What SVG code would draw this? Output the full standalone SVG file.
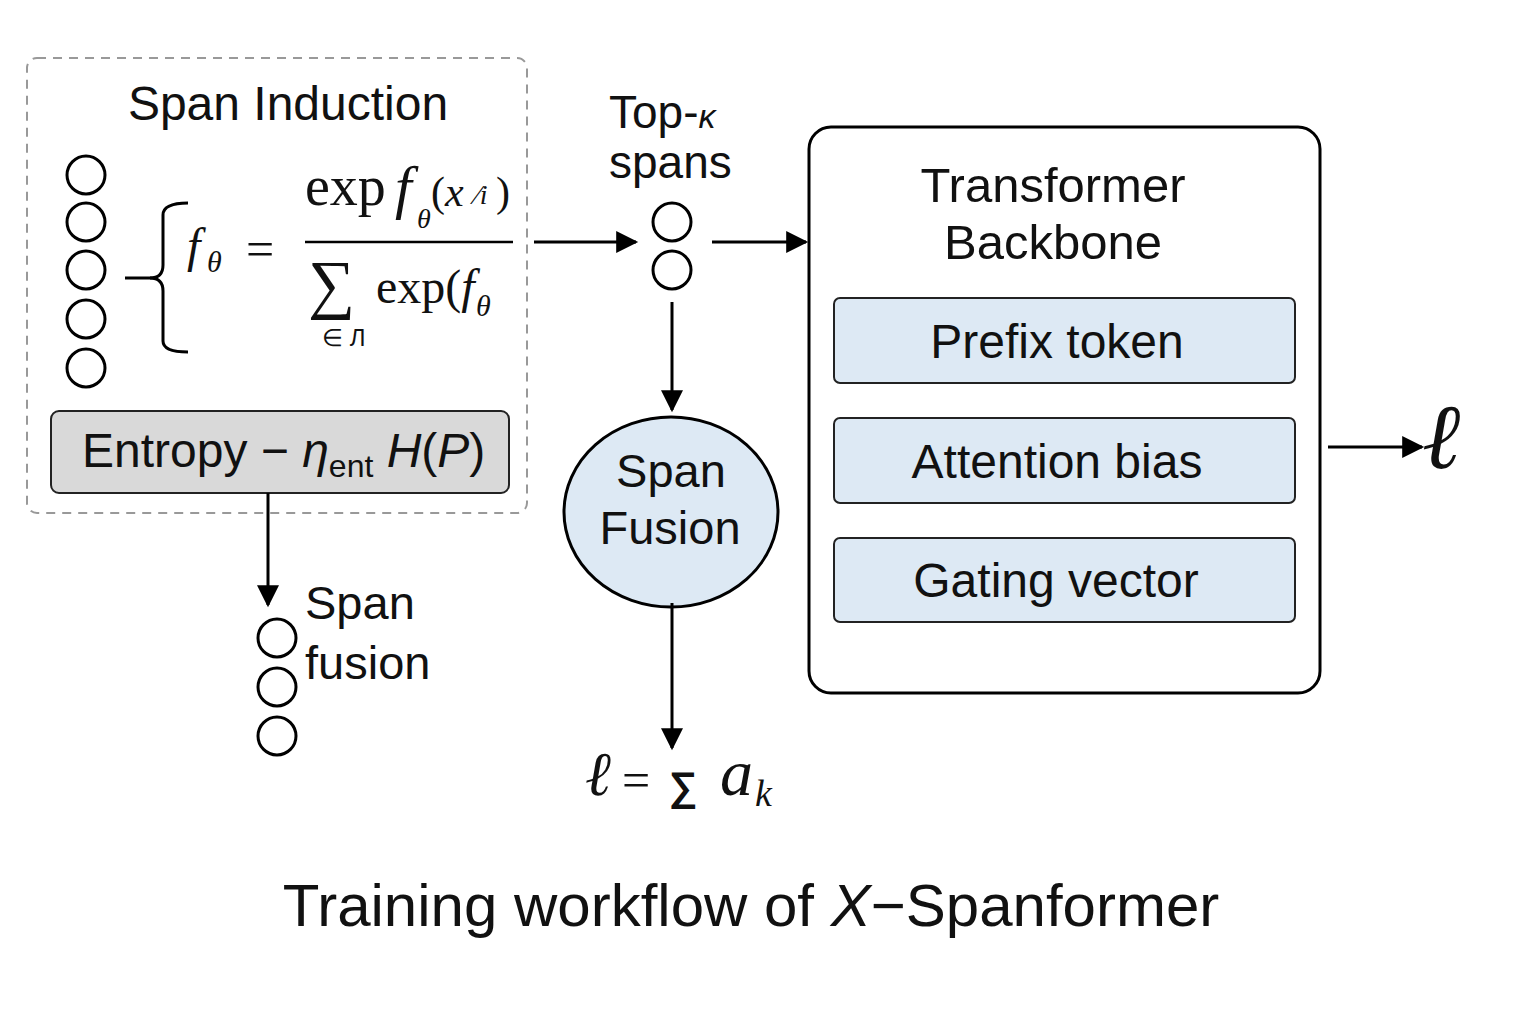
<svg xmlns="http://www.w3.org/2000/svg" width="1536" height="1024" viewBox="0 0 1536 1024">
<defs>
<marker id="ahb" viewBox="0 0 10 10" refX="9" refY="5" markerWidth="24" markerHeight="22" markerUnits="userSpaceOnUse" orient="auto"><path d="M0,0 L10,5 L0,10 Z" fill="#000"/></marker>
<style>
.sans{font-family:"Liberation Sans",Arial,sans-serif;fill:#111}
.serif{font-family:"Liberation Serif","DejaVu Serif",serif;fill:#111}
.ci{fill:#fff;stroke:#000;stroke-width:3}
.ln{stroke:#000;stroke-width:3;fill:none}
.blue{fill:#dde9f4;stroke:#222;stroke-width:2}
</style>
</defs>
<rect width="1536" height="1024" fill="#fff"/>

<g id="span-induction">
<rect x="27" y="58" width="500" height="455" rx="10" fill="none" stroke="#999" stroke-width="2" stroke-dasharray="9 7"/>
<text class="sans" x="288" y="120" font-size="48" text-anchor="middle">Span Induction</text>
<circle class="ci" cx="86" cy="175" r="19"/>
<circle class="ci" cx="86" cy="222" r="19"/>
<circle class="ci" cx="86" cy="270" r="19"/>
<circle class="ci" cx="86" cy="319" r="19"/>
<circle class="ci" cx="86" cy="368" r="19"/>
<path class="ln" d="M125,278 H150 Q163,278 163,265 V215 Q163,203 188,203"/>
<path class="ln" d="M150,278 Q163,278 163,291 V341 Q163,352 188,352"/>
<text class="serif" x="187" y="262" font-size="48" font-style="italic">f</text>
<text class="serif" x="207" y="272" font-size="30" font-style="italic">θ</text>
<text class="serif" x="246" y="266" font-size="50">=</text>
<text class="serif" x="305" y="205" font-size="56">exp</text>
<text class="serif" x="395" y="207" font-size="60" font-style="italic">f</text>
<text class="serif" x="417" y="228" font-size="28" font-style="italic">θ</text>
<text class="serif" x="431" y="206" font-size="42">(<tspan font-style="italic">x</tspan></text>
<text class="serif" x="475" y="204" font-size="28" font-style="italic">⁄i</text>
<text class="serif" x="496" y="206" font-size="42">)</text>
<line x1="305" y1="242" x2="513" y2="242" stroke="#000" stroke-width="2.5"/>
<text class="serif" x="308" y="306" font-size="66">∑</text>
<text class="serif" x="376" y="303" font-size="48">exp(<tspan font-style="italic">f</tspan></text>
<text class="serif" x="476" y="316" font-size="30" font-style="italic">θ</text>
<text class="sans" x="322" y="346" font-size="24">∈ Л</text>
</g>

<g id="entropy">
<rect x="51" y="411" width="458" height="82" rx="8" fill="#d9d9d9" stroke="#222" stroke-width="2"/>
<text class="sans" x="82" y="467" font-size="48">Entropy − <tspan font-style="italic">ƞ</tspan><tspan font-size="32" dy="10">ent</tspan><tspan dy="-10" font-style="italic"> H</tspan>(<tspan font-style="italic">P</tspan>)</text>
</g>

<g id="top-k-spans">
<text class="sans" x="609" y="128" font-size="46">Top-<tspan font-style="italic" font-size="34">κ</tspan></text>
<text class="sans" x="609" y="178" font-size="46">spans</text>
<circle class="ci" cx="672" cy="222" r="19"/>
<circle class="ci" cx="672" cy="270" r="19"/>
</g>

<g id="span-fusion">
<ellipse cx="671" cy="512" rx="107" ry="95" fill="#dde9f4" stroke="#000" stroke-width="3"/>
<text class="sans" x="671" y="487" font-size="47" text-anchor="middle">Span</text>
<text class="sans" x="670" y="544" font-size="47" text-anchor="middle">Fusion</text>
</g>

<g id="loss-sum">
<text class="serif" x="585" y="795" font-size="62" font-style="italic">ℓ</text>
<text class="serif" x="622" y="797" font-size="50">=</text>
<text class="sans" x="669" y="800" font-size="40" font-weight="bold">∑</text>
<text class="serif" x="720" y="795" font-size="66" font-style="italic">a</text>
<text class="serif" x="755" y="806" font-size="38" font-style="italic">k</text>
</g>

<g id="span-fusion-out">
<text class="sans" x="305" y="619" font-size="47">Span</text>
<text class="sans" x="305" y="679" font-size="47">fusion</text>
<circle class="ci" cx="277" cy="638" r="19"/>
<circle class="ci" cx="277" cy="687" r="19"/>
<circle class="ci" cx="277" cy="736" r="19"/>
</g>

<g id="transformer">
<rect x="809" y="127" width="511" height="566" rx="22" fill="#fff" stroke="#000" stroke-width="3"/>
<text class="sans" x="1053" y="202" font-size="49" text-anchor="middle">Transformer</text>
<text class="sans" x="1053" y="259" font-size="49" text-anchor="middle">Backbone</text>
</g>
<g id="prefix-token">
<rect class="blue" x="834" y="298" width="461" height="85" rx="6"/>
<text class="sans" x="1057" y="358" font-size="48" text-anchor="middle">Prefix token</text>
</g>
<g id="attention-bias">
<rect class="blue" x="834" y="418" width="461" height="85" rx="6"/>
<text class="sans" x="1057" y="478" font-size="48" text-anchor="middle">Attention bias</text>
</g>
<g id="gating-vector">
<rect class="blue" x="834" y="538" width="461" height="84" rx="6"/>
<text class="sans" x="1056" y="597" font-size="48" text-anchor="middle">Gating vector</text>
</g>

<g id="loss-out">
<text class="serif" x="1422" y="468" font-size="92" font-style="italic">ℓ</text>
</g>

<g id="connectors">
<line class="ln" x1="534" y1="242" x2="636" y2="242" marker-end="url(#ahb)"/>
<line class="ln" x1="712" y1="242" x2="806" y2="242" marker-end="url(#ahb)"/>
<line class="ln" x1="672" y1="302" x2="672" y2="410" marker-end="url(#ahb)"/>
<line class="ln" x1="672" y1="603" x2="672" y2="748" marker-end="url(#ahb)"/>
<line class="ln" x1="268" y1="493" x2="268" y2="605" marker-end="url(#ahb)"/>
<line class="ln" x1="1328" y1="447" x2="1422" y2="447" marker-end="url(#ahb)"/>
</g>

<text class="sans" x="751" y="926" font-size="60" text-anchor="middle">Training workflow of <tspan font-style="italic">X</tspan>−Spanformer</text>
</svg>
